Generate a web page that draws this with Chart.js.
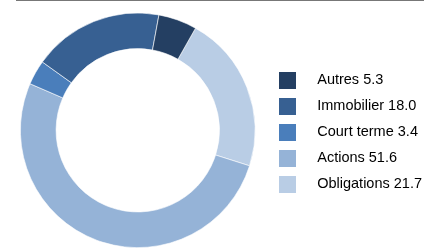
<!DOCTYPE html>
<html>
<head>
<meta charset="utf-8">
<script src="https://cdn.jsdelivr.net/npm/chart.js@4/dist/chart.umd.min.js"></script>
<style>
  html, body { margin: 0; padding: 0; background: #fff; overflow: hidden; }
  #wrap { position: relative; width: 424px; height: 248px; }
  #rule { position: absolute; top: 0; left: 16px; right: 0; height: 1px; background: #777; }
</style>
</head>
<body>
<div id="wrap">
  <canvas id="chart" width="424" height="248"></canvas>
  <div id="rule"></div>
</div>
<script>
// slices in clockwise order, legend shows them reversed
const categories = ['Obligations', 'Actions', 'Court terme', 'Immobilier', 'Autres'];
const values = [21.7, 51.6, 3.4, 18.0, 5.3];
const colors = ['#b9cde5', '#95b3d7', '#4a7ebb', '#376092', '#243f62'];

// legend swatch: square on the left, empty room after it
function swatch(color) {
  const c = document.createElement('canvas');
  c.width = 31;
  c.height = 17;
  const g = c.getContext('2d');
  g.fillStyle = color;
  g.fillRect(0, 0, 17, 17);
  return c;
}

const ctx = document.getElementById('chart');
new Chart(ctx, {
  type: 'doughnut',
  data: {
    labels: categories,
    datasets: [{
      data: values,
      backgroundColor: colors,
      borderColor: 'rgba(255,255,255,0.8)',
      borderWidth: 0.75
    }]
  },
  options: {
    responsive: false,
    animation: false,
    events: [],
    rotation: 29.5,
    cutout: '69.6%',
    layout: { padding: { left: 8, top: 12.6, bottom: -4, right: -8 } },
    plugins: {
      tooltip: { enabled: false },
      legend: {
        position: 'right',
        reverse: true,
        labels: {
          usePointStyle: true,
          pointStyleWidth: 31,
          padding: 11.5,
          color: '#000',
          font: { family: 'Liberation Sans, Arial, sans-serif', size: 14.5 },
          generateLabels: (chart) => chart.data.labels.map((label, i) => ({
            text: label + ' ' + values[i].toFixed(1),
            fillStyle: colors[i],
            strokeStyle: colors[i],
            lineWidth: 0,
            pointStyle: swatch(colors[i]),
            hidden: false,
            index: i
          }))
        }
      }
    }
  }
});
</script>
</body>
</html>
